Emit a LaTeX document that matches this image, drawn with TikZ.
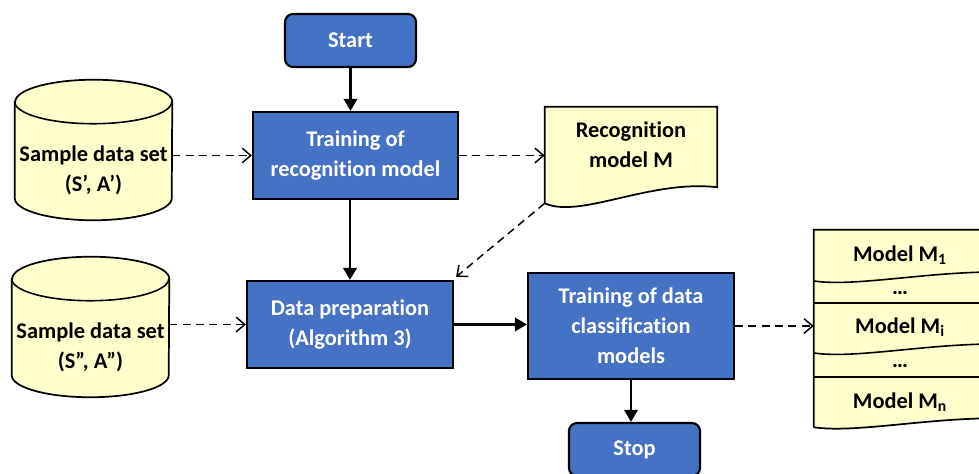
\documentclass[tikz,border=0pt]{standalone}
\usepackage{fontspec}
\setmainfont{Carlito}[Ligatures=NoCommon]
\usetikzlibrary{arrows.meta,positioning,calc}
\definecolor{fcblue}{HTML}{4472C4}
\definecolor{fcyellow}{HTML}{FFFFCC}

\begin{document}
\begin{tikzpicture}[
  x=0.75pt, y=0.75pt,
  font=\fontsize{16.8}{22.5}\selectfont\bfseries,
  proc/.style={draw=black, line width=1.6pt, fill=fcblue, text=white, align=center, inner sep=0pt},
  term/.style={proc, rounded corners=6pt, minimum width=98.25pt, minimum height=39.75pt},
  hold/.style={inner sep=0pt, draw=none},
  lbl/.style={align=center, inner sep=0pt},
  shp/.style={draw=black, line width=1.3pt, fill=fcyellow},
  sep/.style={draw=black, line width=1.2pt},
  arr/.style={-{Triangle[length=9pt,width=10pt]}, line width=2pt},
  darr/.style={-{Straight Barb[length=6.5pt,width=11pt]}, line width=1.1pt, dash pattern=on 6pt off 4pt}
]
\clip (0,0) rectangle (979,474);

% ── Process boxes ─────────────────────────────────────────────
\node[term] (start) at (350.5,433.5) {Start};
\node[proc, minimum width=153.75pt, minimum height=65.25pt] (train) at (355.5,318.5) {Training of\\recognition model};
\node[proc, minimum width=154.5pt, minimum height=65.25pt] (prep) at (350,149.5) {Data preparation\\(Algorithm 3)};
\node[proc, minimum width=154.5pt, minimum height=79.5pt] (cls) at (631,148) {Training of data\\classification\\models};
\node[term] (stop) at (634.5,24.5) {Stop};

% ── Sample data sets ──────────────────────────────────────────
\node[hold, minimum width=117.75pt, minimum height=105pt] (set1) at (93.5,324) {};
\node[hold, minimum width=117.75pt, minimum height=105pt] (set2) at (90.5,147) {};
\foreach \c in {set1,set2}{
  \draw[shp] ($(\c.north west)+(0,-22)$) -- ($(\c.south west)+(0,22)$)
    arc[start angle=180, end angle=360, x radius=78.5, y radius=22]
    -- ($(\c.north east)+(0,-22)$)
    arc[start angle=0, end angle=180, x radius=78.5, y radius=22] -- cycle;
  \draw[sep] ($(\c.north west)+(0,-22)$) arc[start angle=180, end angle=360, x radius=78.5, y radius=22];
}
\node[lbl] (set1txt) at (93.5,304) {Sample data set\\(S’, A’)};
\node[lbl] (set2txt) at (90.5,126.5) {Sample data set\\(S”, A”)};

% ── Recognition model document ────────────────────────────────
\node[hold, minimum width=129pt, minimum height=72pt] (recog) at (631,319) {};
\draw[shp] (recog.south west) -- (recog.north west) -- (recog.north east)
  -- ($(recog.south east)+(0,16)$) .. controls +(-67,8) and +(35,-16) .. (recog.south west);
\node[lbl] (recogtxt) at (631,329) {Recognition\\model M};

% ── Model stack ───────────────────────────────────────────────
\node[hold, minimum width=135.75pt, minimum height=147.75pt] (models) at (904.5,145.5) {};
\draw[shp] (models.south west) -- (models.north west) -- (models.north east)
  -- ($(models.south east)+(0,9)$) .. controls +(-70,0) and +(40,-6) .. (models.south west);
\draw[sep] (814,193) .. controls (854,187) and (925,202) .. (995,202);
\draw[sep] (814,171) -- (995,171);
\draw[sep] (814,121) .. controls (854,115) and (925,130) .. (995,130);
\draw[sep] (814,97) -- (995,97);
\node[lbl] (m1) at (900,219) {Model M\textsubscript{1}};
\node[lbl] (d1) at (900,181) {\ldots};
\node[lbl] (mi) at (900,147) {Model M\textsubscript{i}};
\node[lbl] (d2) at (900,108) {\ldots};
\node[lbl] (mn) at (900,72) {Model M\textsubscript{n}};

% ── Arrows ────────────────────────────────────────────────────
\draw[arr] (start) -- (start |- train.north);
\draw[arr] (prep.north |- train.south) -- (prep.north);
\draw[arr] (prep) -- (prep -| cls.west);
\draw[arr] (cls) -- (cls |- stop.north);
\draw[darr] (set1.east |- train) -- (train.west);
\draw[darr] (train) -- (train -| recog.west);
\draw[darr] (recog.south west) -- ($(prep.north east)+(2,3)$);
\draw[darr] (set2.east |- prep) -- (prep.west);
\draw[darr] (cls) -- (cls -| models.west);
\end{tikzpicture}
\end{document}
